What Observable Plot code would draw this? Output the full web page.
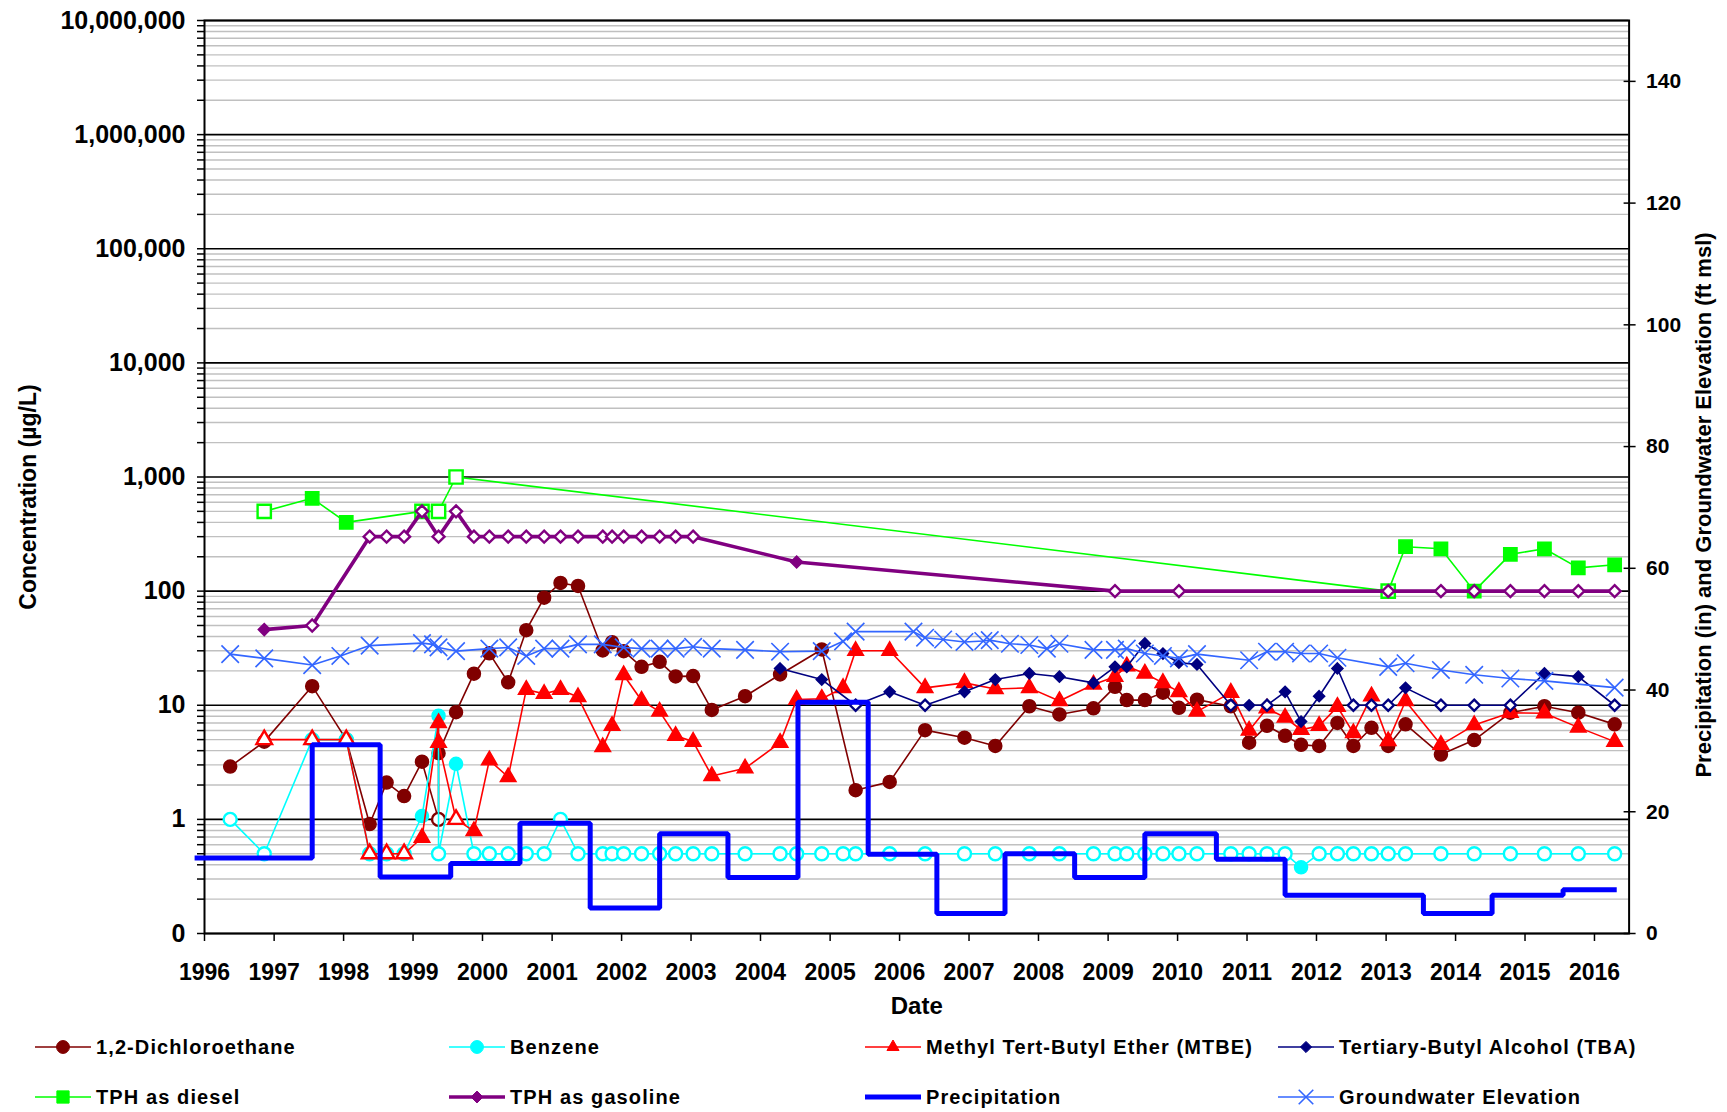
<!DOCTYPE html>
<html>
<head>
<meta charset="utf-8">
<script src="https://cdn.jsdelivr.net/npm/d3@7"></script>
<script src="https://cdn.jsdelivr.net/npm/@observablehq/plot@0.6"></script>
<style>
  html, body { margin: 0; padding: 0; background: #fff; overflow: hidden; }
  body { font-family: "Liberation Sans", Arial, sans-serif; }
  #wrap { position: relative; width: 1727px; height: 1022px; }
  #wrap svg { position: absolute; left: 0; top: 0; }
  #legend { position: relative; width: 1727px; height: 90px; font: bold 20px "Liberation Sans", Arial, sans-serif; letter-spacing: 1.1px; color: #000; }
  .item { position: absolute; height: 50px; display: flex; align-items: center; white-space: nowrap; }
  .item svg { margin-right: 5px; }
</style>
</head>
<body>
<div id="wrap"></div>
<div id="legend"></div>
<script>
// ---------- data: [sample date, value (µg/L), detected (1) / non-detect (0)] ----------
const dca = [
["1996-05-15",2.9,1],["1996-11-10",4.8,1],["1997-07-20",14.7,1],["1998-01-15",5,1],["1998-05-18",0.91,1],
["1998-08-15",2.1,1],["1998-11-15",1.6,1],["1999-02-17",3.2,1],["1999-05-15",1.0,0],["1999-05-15",3.8,1],
["1999-08-15",8.7,1],["1999-11-17",18.9,1],["2000-02-06",28.5,1],["2000-05-15",15.9,1],["2000-08-18",45.5,1],
["2000-11-20",87.5,1],["2001-02-14",118,1],["2001-05-17",111,1],["2001-09-24",30.2,1],["2001-11-12",35.7,1],
["2002-01-12",29.8,1],["2002-04-16",21.7,1],["2002-07-20",24,1],["2002-10-12",17.9,1],["2003-01-12",18,1],
["2003-04-20",9.1,1],["2003-10-12",12,1],["2004-04-13",18.6,1],["2004-11-18",30.8,1],["2005-05-15",1.8,1],
["2005-11-10",2.13,1],["2006-05-15",6.05,1],["2006-12-08",5.2,1],["2007-05-19",4.4,1],["2007-11-14",9.8,1],
["2008-04-20",8.3,1],["2008-10-16",9.4,1],["2009-02-06",14.5,1],["2009-04-09",11.1,1],["2009-07-13",11.1,1],
["2009-10-16",12.9,1],["2010-01-08",9.5,1],["2010-04-13",11.2,1],["2010-10-08",9.8,1],["2011-01-12",4.7,1],
["2011-04-16",6.6,1],["2011-07-20",5.4,1],["2011-10-12",4.5,1],["2012-01-15",4.4,1],["2012-04-20",7.0,1],
["2012-07-13",4.4,1],["2012-10-16",6.35,1],["2013-01-12",4.4,1],["2013-04-13",6.8,1],["2013-10-16",3.7,1],
["2014-04-09",4.95,1],["2014-10-16",8.6,1],["2015-04-13",9.8,1],["2015-10-08",8.6,1],["2016-04-16",6.8,1]
];
const benzene = [
["1996-05-15",1.0,0],["1996-11-10",0.5,0],["1997-07-20",5,0],["1998-01-15",5,0],["1998-05-18",0.5,0],
["1998-08-15",0.5,0],["1998-11-15",0.5,0],["1999-02-17",1.07,1],["1999-05-15",8.1,1],["1999-05-15",0.5,0],
["1999-08-15",3.07,1],["1999-11-17",0.5,0],["2000-02-06",0.5,0],["2000-05-15",0.5,0],["2000-08-18",0.5,0],
["2000-11-20",0.5,0],["2001-02-14",1.0,0],["2001-05-17",0.5,0],["2001-09-24",0.5,0],["2001-11-12",0.5,0],
["2002-01-12",0.5,0],["2002-04-16",0.5,0],["2002-07-20",0.5,0],["2002-10-12",0.5,0],["2003-01-12",0.5,0],
["2003-04-20",0.5,0],["2003-10-12",0.5,0],["2004-04-13",0.5,0],["2004-07-09",0.5,0],["2004-11-18",0.5,0],
["2005-03-10",0.5,0],["2005-05-15",0.5,0],["2005-11-10",0.5,0],["2006-05-15",0.5,0],["2006-12-08",0.5,0],
["2007-05-19",0.5,0],["2007-11-14",0.5,0],["2008-04-20",0.5,0],["2008-10-16",0.5,0],["2009-02-06",0.5,0],
["2009-04-09",0.5,0],["2009-07-13",0.5,0],["2009-10-16",0.5,0],["2010-01-08",0.5,0],["2010-04-13",0.5,0],
["2010-10-08",0.5,0],["2011-01-12",0.5,0],["2011-04-16",0.5,0],["2011-07-20",0.5,0],["2011-10-12",0.38,1],
["2012-01-15",0.5,0],["2012-04-20",0.5,0],["2012-07-13",0.5,0],["2012-10-16",0.5,0],["2013-01-12",0.5,0],
["2013-04-13",0.5,0],["2013-10-16",0.5,0],["2014-04-09",0.5,0],["2014-10-16",0.5,0],["2015-04-13",0.5,0],
["2015-10-08",0.5,0],["2016-04-16",0.5,0]
];
const mtbe = [
["1996-11-10",5,0],["1997-07-20",5,0],["1998-01-15",5,0],["1998-05-18",0.5,0],["1998-08-15",0.5,0],
["1998-11-15",0.5,0],["1999-02-17",0.69,1],["1999-05-15",7.0,1],["1999-05-15",4.7,1],["1999-08-15",1.0,0],
["1999-11-17",0.79,1],["2000-02-06",3.3,1],["2000-05-15",2.35,1],["2000-08-18",13.7,1],["2000-11-20",12.6,1],
["2001-02-14",13.7,1],["2001-05-17",11.8,1],["2001-09-24",4.3,1],["2001-11-12",6.6,1],["2002-01-12",18.4,1],
["2002-04-16",11,1],["2002-07-20",8.8,1],["2002-10-12",5.4,1],["2003-01-12",4.8,1],["2003-04-20",2.4,1],
["2003-10-12",2.8,1],["2004-04-13",4.7,1],["2004-07-09",11.2,1],["2004-11-18",11.4,1],["2005-03-10",14.2,1],
["2005-05-15",30,1],["2005-11-10",30,1],["2006-05-15",14.2,1],["2006-12-08",15.7,1],["2007-05-19",13.9,1],
["2007-11-14",14.2,1],["2008-04-20",10.9,1],["2008-10-16",15.2,1],["2009-02-06",17.8,1],["2009-04-09",22,1],
["2009-07-13",19,1],["2009-10-16",15.7,1],["2010-01-08",13.1,1],["2010-04-13",8.8,1],["2010-10-08",12.9,1],
["2011-01-12",6,1],["2011-04-16",9.4,1],["2011-07-20",7.8,1],["2011-10-12",6.1,1],["2012-01-15",6.6,1],
["2012-04-20",9.7,1],["2012-07-13",5.7,1],["2012-10-16",12,1],["2013-01-12",4.85,1],["2013-04-13",10.9,1],
["2013-10-16",4.5,1],["2014-04-09",6.7,1],["2014-10-16",8.6,1],["2015-04-13",8.5,1],["2015-10-08",6.4,1],
["2016-04-16",4.8,1]
];
const tba = [
["2004-04-13",21,1],["2004-11-18",16.8,1],["2005-05-15",10,0],["2005-11-10",13.1,1],["2006-05-15",10,0],
["2006-12-08",13.1,1],["2007-05-19",16.8,1],["2007-11-14",19,1],["2008-04-20",17.8,1],["2008-10-16",15.7,1],
["2009-02-06",21.7,1],["2009-04-09",21.7,1],["2009-07-13",34.8,1],["2009-10-16",28.4,1],["2010-01-08",23.6,1],
["2010-04-13",22.8,1],["2010-10-08",10,0],["2011-01-12",10,1],["2011-04-16",10,0],["2011-07-20",13.1,1],
["2011-10-12",7.2,1],["2012-01-15",12,1],["2012-04-20",21,1],["2012-07-13",10,0],["2012-10-16",10,0],
["2013-01-12",10,0],["2013-04-13",14.2,1],["2013-10-16",10,0],["2014-04-09",10,0],["2014-10-16",10,0],
["2015-04-13",19,1],["2015-10-08",17.8,1],["2016-04-16",10,0]
];
const diesel = [
["1996-11-10",500,0],["1997-07-20",650,1],["1998-01-15",400,1],["1999-02-17",500,0],["1999-05-15",500,0],
["1999-08-15",1000,0],["2013-01-12",100,0],["2013-04-13",245,1],["2013-10-16",235,1],["2014-04-09",100,1],
["2014-10-16",210,1],["2015-04-13",235,1],["2015-10-08",160,1],["2016-04-16",170,1]
];
const gasoline = [
["1996-11-10",46,1],["1997-07-20",50,0],["1998-05-18",300,0],["1998-08-15",300,0],["1998-11-15",300,0],
["1999-02-17",500,0],["1999-05-15",300,0],["1999-08-15",500,0],["1999-11-17",300,0],["2000-02-06",300,0],
["2000-05-15",300,0],["2000-08-18",300,0],["2000-11-20",300,0],["2001-02-14",300,0],["2001-05-17",300,0],
["2001-09-24",300,0],["2001-11-12",300,0],["2002-01-12",300,0],["2002-04-16",300,0],["2002-07-20",300,0],
["2002-10-12",300,0],["2003-01-12",300,0],["2004-07-09",180,1],["2009-02-06",100,0],["2010-01-08",100,0],
["2013-01-12",100,0],["2013-10-16",100,0],["2014-04-09",100,0],["2014-10-16",100,0],["2015-04-13",100,0],
["2015-10-08",100,0],["2016-04-16",100,0]
];
// precipitation (in), annual totals: [start of period, inches]
const precipitation = [
["1995-11-10",12.4],["1997-07-20",31.0],["1998-07-12",9.3],["1999-07-18",11.5],["2000-07-16",18.1],
["2001-07-20",4.2],["2002-07-20",16.4],["2003-07-14",9.2],["2004-07-16",38.0],["2005-07-20",13.0],
["2006-07-16",3.3],["2007-07-09",13.1],["2008-07-09",9.2],["2009-07-13",16.4],["2010-07-24",12.2],
["2011-07-20",6.3],["2012-07-20",6.3],["2013-07-16",3.3],["2014-07-12",6.3],["2015-07-20",7.2],
["2016-04-27",7.2]
];
// groundwater elevation (ft msl)
const groundwater = [
["1996-05-15",45.9],["1996-11-10",45.2],["1997-07-20",44.1],["1997-12-15",45.6],["1998-05-18",47.3],
["1999-02-17",47.7],["1999-04-16",47.5],["1999-05-15",47.0],["1999-08-15",46.4],["2000-02-06",46.8],
["2000-05-15",47.0],["2000-08-18",45.6],["2000-11-20",46.8],["2001-02-14",46.8],["2001-05-17",47.5],
["2001-09-24",47.5],["2002-01-12",47.0],["2002-04-16",46.8],["2002-07-20",46.8],["2002-10-12",46.8],
["2003-01-12",47.1],["2003-04-20",46.8],["2003-10-12",46.6],["2004-04-13",46.3],["2004-11-18",46.4],
["2005-03-10",48.0],["2005-05-15",49.6],["2006-03-15",49.6],["2006-05-15",48.6],["2006-08-18",48.3],
["2006-12-08",47.9],["2007-03-17",48.05],["2007-04-20",48.2],["2007-08-04",47.6],["2007-11-14",47.4],
["2008-02-14",46.8],["2008-04-20",47.6],["2008-10-16",46.6],["2009-02-06",46.6],["2009-04-09",46.8],
["2009-07-13",46.0],["2009-10-16",45.6],["2010-01-08",45.2],["2010-04-13",45.9],["2011-01-12",44.9],
["2011-04-16",46.3],["2011-07-20",46.3],["2011-10-12",46.0],["2012-01-15",46.0],["2012-04-20",45.3],
["2013-01-12",43.8],["2013-04-13",44.4],["2013-10-16",43.3],["2014-04-09",42.5],["2014-10-16",41.9],
["2015-04-13",41.5],["2016-04-16",40.4]
];
const yearLabels = d3.range(1996, 2017);
const rightTicks = [0, 20, 40, 60, 80, 100, 120, 140];
const seriesNames = ["1,2-Dichloroethane","Benzene","Methyl Tert-Butyl Ether (MTBE)","Tertiary-Butyl Alcohol (TBA)",
                     "TPH as diesel","TPH as gasoline","Precipitation","Groundwater Elevation"];

// ---------- helpers ----------
const parse = d3.utcParse("%Y-%m-%d");
const rows = arr => arr.map(([d, v, f]) => ({date: parse(d), value: v, det: f === undefined ? 1 : f}));

const W = 1727, H = 1022;
const M = {marginTop: 20, marginRight: 98.4, marginBottom: 89, marginLeft: 204};
const xDomain = [parse("1996-01-01"), parse("2016-07-01")];
const yearTicks = yearLabels.map(y => new Date(Date.UTC(y, 0, 1)));
const majors = d3.range(-1, 8).map(e => +(10 ** e).toPrecision(6));
const minors = d3.range(-1, 7).flatMap(e => d3.range(2, 10).map(k => +(k * 10 ** e).toPrecision(6)));
const FONT = '"Liberation Sans", Arial, sans-serif';

const conc = [
  {name: seriesNames[0], data: rows(dca),      color: "#800000", symbol: "circle",   r: 6.5, sw: 1.6},
  {name: seriesNames[1], data: rows(benzene),  color: "#00ffff", symbol: "circle",   r: 6.5, sw: 1.6},
  {name: seriesNames[2], data: rows(mtbe),     color: "#ff0000", symbol: "triangle", r: 5.8, sw: 1.6},
  {name: seriesNames[3], data: rows(tba),      color: "#000080", symbol: "diamond2", r: 5.0, sw: 1.6},
  {name: seriesNames[4], data: rows(diesel),   color: "#00ff00", symbol: "square",   r: 7.5, sw: 1.6},
  {name: seriesNames[5], data: rows(gasoline), color: "#800080", symbol: "diamond2", r: 5.4, sw: 3.6}
];

const seriesMarks = conc.flatMap(s => [
  Plot.line(s.data, {x: "date", y: "value", stroke: s.color, strokeWidth: s.sw, strokeLinejoin: "miter"}),
  Plot.dot(s.data, {x: "date", y: "value", symbol: s.symbol, r: s.r, fill: s.color, stroke: s.color,
                    strokeWidth: 1.5, filter: d => d.det === 1}),
  Plot.dot(s.data, {x: "date", y: "value", symbol: s.symbol, r: s.r, fill: "white", stroke: s.color,
                    strokeWidth: 2.4, filter: d => d.det === 0})
]);

const fmt = d3.format(",");
const leftPlot = Plot.plot({
  width: W, height: H, ...M,
  style: {fontFamily: FONT, background: "white", overflow: "visible"},
  x: {type: "utc", domain: xDomain},
  y: {type: "log", domain: [0.1, 1e7]},
  marks: [
    Plot.ruleY(minors, {stroke: "#c0c0c0", strokeWidth: 1.4}),
    Plot.ruleY(majors, {stroke: "#000", strokeWidth: 1.6}),
    ...seriesMarks,
    Plot.frame({stroke: "#000", strokeWidth: 2}),
    Plot.axisY({ticks: [...majors, ...minors], tickSize: 7, tickPadding: 12, strokeWidth: 1.5,
      tickFormat: d => majors.includes(d) ? (d < 1 ? "0" : fmt(d)) : "",
      fontSize: 25, fontWeight: "bold", label: null}),
    Plot.axisX({ticks: yearTicks, tickFormat: d3.utcFormat("%Y"), tickSize: 8, tickPadding: 22, strokeWidth: 1.5,
      fontSize: 23, fontWeight: "bold", label: null}),
    Plot.text(["Concentration (µg/L)"], {text: d => d, frameAnchor: "left", textAnchor: "middle",
      dx: -176, dy: 20, rotate: -90, fontSize: 23, fontWeight: "bold"}),
    Plot.text(["Date"], {text: d => d, frameAnchor: "bottom", dy: 80, fontSize: 24, fontWeight: "bold"})
  ]
});

const rightPlot = Plot.plot({
  width: W, height: H, ...M,
  style: {fontFamily: FONT, background: "transparent", overflow: "visible"},
  x: {type: "utc", domain: xDomain, axis: null},
  y: {domain: [0, 150]},
  marks: [
    Plot.line(rows(precipitation), {x: "date", y: "value", curve: "step-after", stroke: "#0000ff",
      strokeWidth: 5, strokeLinejoin: "miter", strokeLinecap: "butt"}),
    Plot.line(rows(groundwater), {x: "date", y: "value", stroke: "#3366ff", strokeWidth: 1.6}),
    Plot.dot(rows(groundwater), {x: "date", y: "value", symbol: "times", r: 8, stroke: "#3366ff", strokeWidth: 1.6}),
    Plot.axisY({anchor: "right", ticks: rightTicks, tickSize: 6, tickPadding: 11, strokeWidth: 1.5,
      fontSize: 21, fontWeight: "bold", label: null}),
    Plot.axisY({anchor: "right", ticks: rightTicks, tickSize: -6, tickFormat: () => "", strokeWidth: 1.5, label: null}),
    Plot.text(["Precipitation (in) and Groundwater Elevation (ft msl)"], {text: d => d, frameAnchor: "right",
      textAnchor: "middle", dx: 75, dy: 28, rotate: -90, fontSize: 22, fontWeight: "bold"})
  ]
});

const wrap = document.getElementById("wrap");
wrap.appendChild(leftPlot);
wrap.appendChild(rightPlot);

// ---------- legend ----------
const legendSpecs = [
  {color: "#800000", symbol: d3.symbolCircle, size: 130, sw: 1.6},
  {color: "#00ffff", symbol: d3.symbolCircle, size: 130, sw: 1.6},
  {color: "#ff0000", symbol: d3.symbolTriangle2, size: 105, sw: 1.6},
  {color: "#000080", symbol: d3.symbolDiamond2, size: 80, sw: 1.6},
  {color: "#00ff00", symbol: d3.symbolSquare, size: 150, sw: 1.6},
  {color: "#800080", symbol: d3.symbolDiamond2, size: 90, sw: 3.6},
  {color: "#0000ff", symbol: null, sw: 5},
  {color: "#3366ff", symbol: d3.symbolTimes, size: 140, sw: 1.4}
];
const colX = [35, 449, 865, 1278];
const legend = d3.select("#legend");
seriesNames.forEach((name, i) => {
  const spec = legendSpecs[i];
  const item = legend.append("div").attr("class", "item")
    .style("left", colX[i % 4] + "px").style("top", (Math.floor(i / 4) * 50) + "px");
  const svg = item.append("svg").attr("width", 56).attr("height", 24);
  svg.append("line").attr("x1", 0).attr("x2", 56).attr("y1", 12).attr("y2", 12)
    .attr("stroke", spec.color).attr("stroke-width", spec.sw);
  if (spec.symbol) {
    const p = svg.append("path").attr("transform", "translate(28,12)")
      .attr("d", d3.symbol(spec.symbol, spec.size)());
    if (spec.symbol === d3.symbolTimes) p.attr("fill", "none").attr("stroke", spec.color).attr("stroke-width", 1.6);
    else p.attr("fill", spec.color).attr("stroke", spec.color);
  }
  item.append("span").text(name);
});
</script>
</body>
</html>
